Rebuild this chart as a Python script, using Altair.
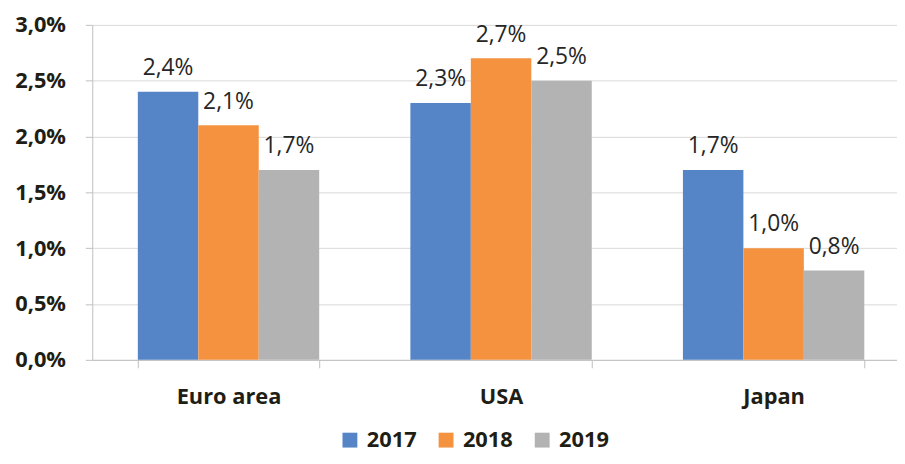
import altair as alt
import pandas as pd

regions = ["Euro area", "USA", "Japan"]
years = ["2017", "2018", "2019"]
v2017 = [2.4, 2.3, 1.7]
v2018 = [2.1, 2.7, 1.0]
v2019 = [1.7, 2.5, 0.8]
colors = ["#5585c6", "#f5923f", "#b3b3b3"]
y_ticks = [0, 0.5, 1.0, 1.5, 2.0, 2.5, 3.0]

rows = []
for yr, vals in zip(years, [v2017, v2018, v2019]):
    for r, v in zip(regions, vals):
        rows.append({"region": r, "year": yr, "value": v,
                     "label": f"{v:.1f}".replace(".", ",") + "%"})
df = pd.DataFrame(rows)

FONT = "Open Sans"
TXT = "#1f1e14"

x_enc = alt.X("region:N", sort=regions, title=None,
              scale=alt.Scale(paddingInner=0.3345, paddingOuter=0.16725),
              axis=alt.Axis(labelAngle=0, tickBand="extent", tickSize=8,
                            tickColor="#bfbfbf", domainColor="#bfbfbf", labelFontSize=22,
                            labelFontWeight="bold", labelColor=TXT, labelFont=FONT,
                            labelPadding=19, grid=False))
xo = alt.XOffset("year:N", sort=years, scale=alt.Scale(paddingInner=0, paddingOuter=0))
y_enc = alt.Y("value:Q", title=None,
              scale=alt.Scale(domain=[0, 3], nice=False),
              axis=alt.Axis(values=y_ticks, tickSize=7, tickColor="#bfbfbf", domainColor="#bfbfbf",
                            gridColor="#d9d9d9", grid=True,
                            labelExpr="replace(format(datum.value, '.1f'), '.', ',') + '%'",
                            labelFontSize=22, labelFontWeight="bold", labelColor=TXT,
                            labelFont=FONT, labelPadding=20))

base = alt.Chart(df)
bars = base.mark_bar(stroke=None).encode(
    x=x_enc, xOffset=xo, y=y_enc,
    color=alt.Color("year:N", sort=years, title=None,
                    scale=alt.Scale(domain=years, range=colors),
                    legend=alt.Legend(orient="none", legendX=249, legendY=408, direction="horizontal",
                                      symbolType="square", symbolSize=225, symbolStrokeWidth=0,
                                      labelFontSize=22, labelFontWeight="bold", labelColor=TXT,
                                      labelFont=FONT, columnPadding=18, labelOffset=6))
)
texts = base.mark_text(baseline="bottom", dy=-12, fontSize=23, font=FONT, color="#262626").encode(
    x=x_enc, xOffset=xo, y=y_enc, text="label:N"
)

chart = alt.layer(bars, texts).properties(
    width=825, height=338,
    autosize=alt.AutoSizeParams(type="none"),
    padding={"left": 85, "top": 15, "right": -13, "bottom": 95},
).configure_view(stroke=None)

chart.save("out.html", embed_options={"renderer": "svg", "actions": False})
